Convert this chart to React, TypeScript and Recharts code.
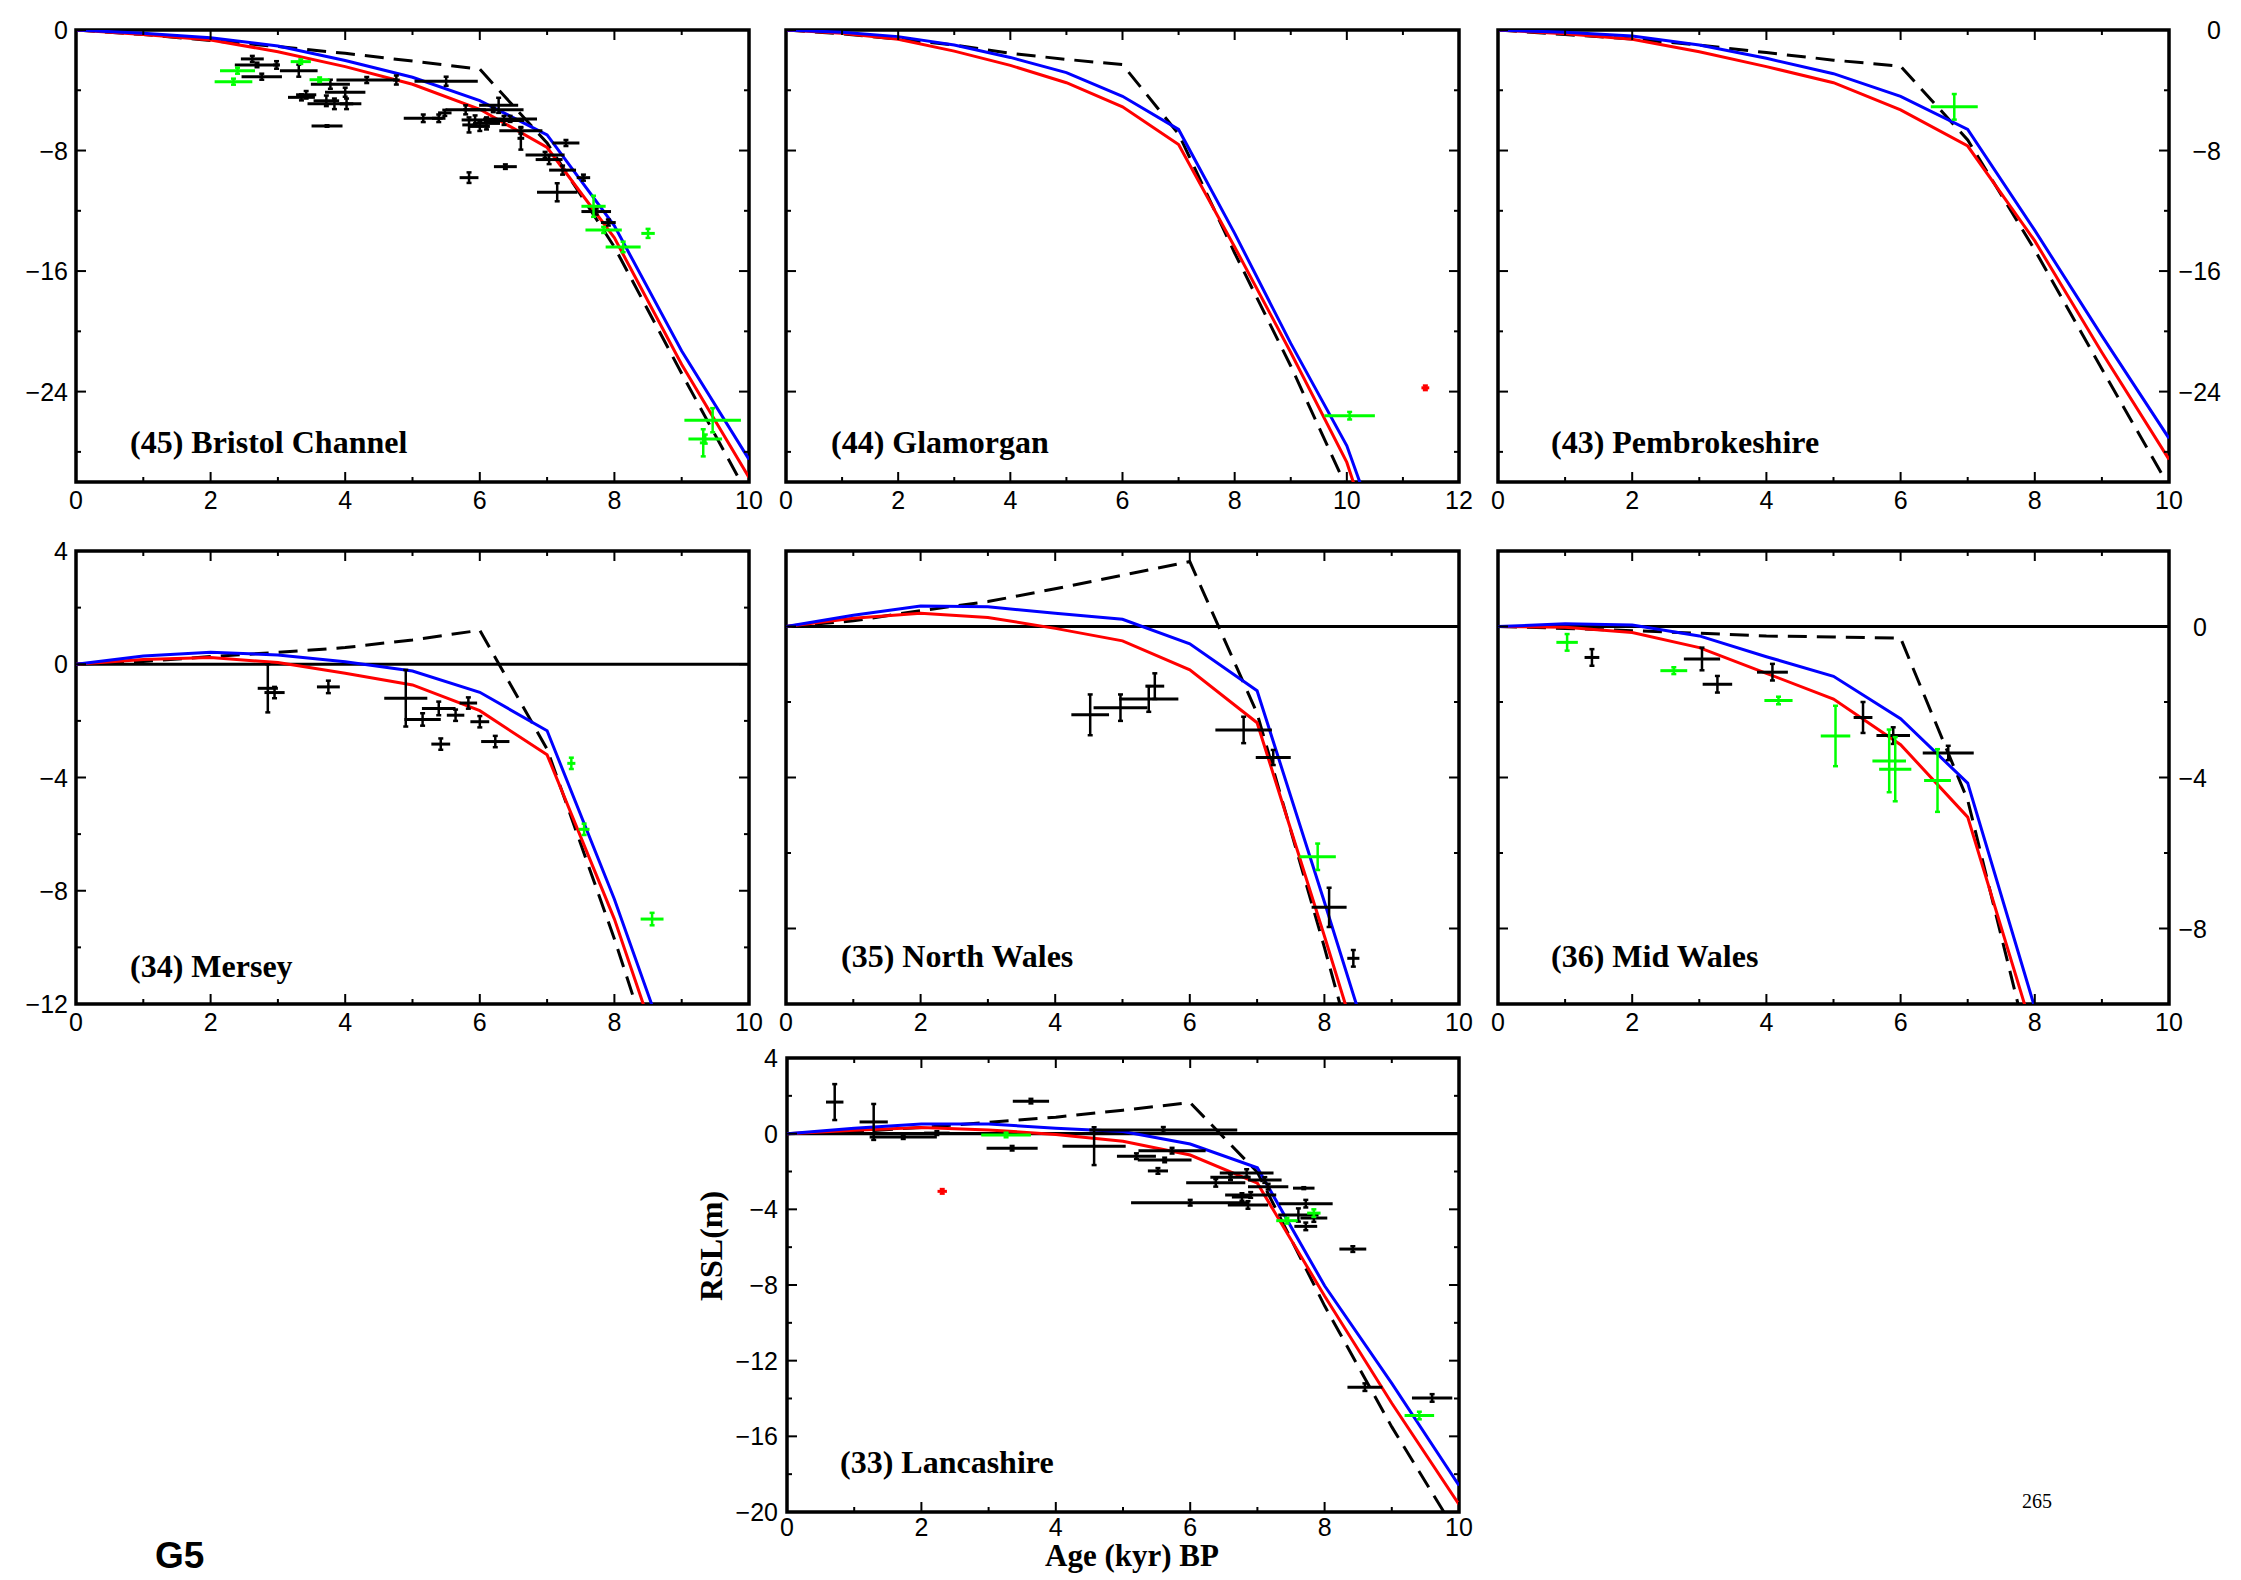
import React from 'react';
import { ComposedChart, Line, Scatter, XAxis, YAxis, ErrorBar, ReferenceArea, ReferenceLine } from 'recharts';

type Pt = [number, number, number, number];

// ---------- ages ----------
const AGES_9 = [0, 1, 2, 3, 4, 5, 6, 7, 8, 9];
const AGES_10 = [0, 1, 2, 3, 4, 5, 6, 7, 8, 9, 10];
const AGES_11 = [0, 1, 2, 3, 4, 5, 6, 7, 8, 9, 10, 11];

// ---------- model curves (dashed = ice model, red, blue) ----------
const BRISTOL_DASH = [0, -0.3, -0.7, -1.1, -1.55, -2.06, -2.6, -7.5, -14.4, -22.8, -31];
const BRISTOL_RED = [0, -0.3, -0.66, -1.44, -2.43, -3.6, -5.26, -7.8, -13.8, -22.2, -29.7];
const BRISTOL_BLUE = [0, -0.22, -0.51, -1.06, -2.03, -3.14, -4.69, -6.96, -13.0, -21.3, -28.5];

const GLAM_DASH = [0, -0.25, -0.6, -1.0, -1.55, -1.95, -2.3, -6.9, -14.8, -22.3, -30.4, -40];
const GLAM_RED = [0, -0.22, -0.62, -1.4, -2.35, -3.5, -5.1, -7.6, -14.4, -21.4, -28.7, -40];
const GLAM_BLUE = [0, -0.15, -0.44, -1.0, -1.82, -2.83, -4.4, -6.6, -13.5, -20.8, -27.6, -38];

const PEMB_DASH = [0, -0.3, -0.6, -1.0, -1.5, -2.0, -2.4, -7.3, -14.6, -22.5, -30.3];
const PEMB_RED = [0, -0.25, -0.62, -1.44, -2.43, -3.5, -5.3, -7.7, -14.0, -21.4, -28.5];
const PEMB_BLUE = [0, -0.15, -0.4, -1.0, -1.88, -2.9, -4.4, -6.6, -13.3, -20.3, -27.1];

const MERSEY_DASH = [0, 0.1, 0.27, 0.42, 0.59, 0.86, 1.2, -3.0, -9.7, -17];
const MERSEY_RED = [0, 0.17, 0.24, 0.06, -0.32, -0.73, -1.64, -3.2, -9.0, -16];
const MERSEY_BLUE = [0, 0.29, 0.42, 0.33, 0.09, -0.24, -0.99, -2.35, -8.3, -15];

const NWALES_DASH = [0, 0.15, 0.42, 0.66, 1.0, 1.36, 1.72, -2.3, -8.5, -15];
const NWALES_RED = [0, 0.22, 0.35, 0.24, -0.05, -0.38, -1.15, -2.55, -8.2, -14];
const NWALES_BLUE = [0, 0.3, 0.54, 0.52, 0.35, 0.19, -0.46, -1.7, -7.3, -13];

const MWALES_DASH = [0, -0.05, -0.11, -0.18, -0.25, -0.28, -0.31, -4.6, -11.8, -18];
const MWALES_RED = [0, -0.02, -0.16, -0.56, -1.24, -1.92, -3.13, -5.05, -10.9, -17];
const MWALES_BLUE = [0, 0.07, 0.04, -0.25, -0.8, -1.32, -2.44, -4.15, -10.1, -17];

const LANC_DASH = [0, 0.1, 0.33, 0.6, 0.87, 1.24, 1.64, -2.04, -9.1, -15.5, -21.3];
const LANC_RED = [0, 0.18, 0.33, 0.2, -0.04, -0.4, -1.13, -2.62, -8.58, -14.25, -19.6];
const LANC_BLUE = [0, 0.29, 0.51, 0.51, 0.29, 0.11, -0.55, -1.8, -8.04, -13.2, -18.6];

// ---------- observations: [age, rsl, ageErr, rslErr] ----------
const BRISTOL_BLACK: Pt[] = [
  [2.62, -1.92, 0.17, 0.2], [2.69, -2.32, 0.33, 0.15], [2.98, -2.32, 0.05, 0.25], [2.76, -3.1, 0.3, 0.2],
  [3.31, -2.7, 0.28, 0.4], [3.35, -4.47, 0.2, 0.2], [3.42, -4.3, 0.15, 0.25], [3.78, -3.6, 0.29, 0.3],
  [4.32, -3.32, 0.45, 0.2], [4.76, -3.32, 0.05, 0.3], [5.5, -3.4, 0.47, 0.3], [4.0, -4.13, 0.3, 0.3],
  [3.72, -4.7, 0.19, 0.35], [3.84, -4.9, 0.4, 0.35], [4.02, -4.9, 0.1, 0.35], [3.73, -6.37, 0.23, 0.05],
  [5.16, -5.86, 0.29, 0.25], [5.39, -5.86, 0.1, 0.25], [5.48, -5.5, 0.1, 0.2], [5.79, -5.3, 0.3, 0.3],
  [5.84, -6.3, 0.1, 0.5], [5.93, -5.97, 0.2, 0.3], [6.0, -6.4, 0.15, 0.3], [6.1, -6.2, 0.2, 0.4],
  [6.28, -5.0, 0.29, 0.5], [6.36, -6.0, 0.3, 0.3], [6.2, -5.3, 0.45, 0.15], [6.45, -5.9, 0.4, 0.2],
  [6.61, -6.68, 0.32, 0.2], [6.61, -7.19, 0.05, 0.75], [6.97, -8.29, 0.29, 0.2], [7.03, -8.6, 0.2, 0.3],
  [7.28, -7.5, 0.2, 0.2], [6.38, -9.07, 0.17, 0.15], [5.84, -9.8, 0.14, 0.35], [7.23, -9.3, 0.2, 0.3],
  [7.54, -9.8, 0.1, 0.2], [7.15, -10.77, 0.3, 0.6], [7.73, -12.05, 0.22, 0.2], [7.91, -12.78, 0.11, 0.2],
];
const BRISTOL_GREEN: Pt[] = [
  [2.4, -2.7, 0.26, 0.2], [2.34, -3.43, 0.28, 0.2], [3.34, -2.1, 0.15, 0.15], [3.62, -3.3, 0.15, 0.15],
  [7.69, -11.7, 0.18, 0.7], [7.84, -13.27, 0.27, 0.2], [8.13, -14.4, 0.26, 0.35], [8.5, -13.5, 0.1, 0.3],
  [9.46, -25.9, 0.42, 0.8], [9.35, -27.15, 0.25, 0.3], [9.32, -27.4, 0.05, 0.9],
];
const GLAM_GREEN: Pt[] = [[10.05, -25.6, 0.45, 0.25]];
const GLAM_REDPTS: Pt[] = [[11.4, -23.75, 0.07, 0.15]];
const PEMB_GREEN: Pt[] = [[6.8, -5.1, 0.35, 0.85]];

const MERSEY_BLACK: Pt[] = [
  [2.85, -0.85, 0.15, 0.85], [2.95, -1.0, 0.15, 0.2], [3.75, -0.8, 0.17, 0.22], [4.9, -1.2, 0.32, 1.0],
  [5.15, -1.95, 0.27, 0.22], [5.39, -1.56, 0.25, 0.24], [5.64, -1.8, 0.13, 0.2], [5.83, -1.37, 0.13, 0.2],
  [6.0, -2.03, 0.14, 0.2], [5.42, -2.82, 0.14, 0.2], [6.23, -2.73, 0.21, 0.2],
];
const MERSEY_GREEN: Pt[] = [[7.36, -3.5, 0.06, 0.2], [7.55, -5.83, 0.08, 0.2], [8.56, -9.0, 0.17, 0.22]];

const NWALES_BLACK: Pt[] = [
  [4.52, -2.34, 0.28, 0.54], [4.97, -2.15, 0.4, 0.35], [5.39, -1.92, 0.44, 0.34], [5.48, -1.58, 0.14, 0.34],
  [6.8, -2.74, 0.42, 0.35], [7.24, -3.47, 0.26, 0.2], [8.07, -7.44, 0.26, 0.52], [8.43, -8.79, 0.09, 0.22],
];
const NWALES_GREEN: Pt[] = [[7.9, -6.1, 0.27, 0.35]];

const MWALES_BLACK: Pt[] = [
  [1.4, -0.82, 0.11, 0.22], [3.04, -0.86, 0.27, 0.3], [3.27, -1.53, 0.22, 0.22], [4.09, -1.21, 0.23, 0.22],
  [5.44, -2.41, 0.14, 0.41], [5.89, -2.89, 0.25, 0.22], [6.71, -3.35, 0.38, 0.19],
];
const MWALES_GREEN: Pt[] = [
  [1.03, -0.42, 0.16, 0.22], [2.62, -1.17, 0.2, 0.09], [4.18, -1.96, 0.21, 0.1], [5.03, -2.9, 0.22, 0.8],
  [5.83, -3.56, 0.25, 0.83], [5.92, -3.78, 0.24, 0.85], [6.55, -4.08, 0.2, 0.83],
];

const LANC_BLACK: Pt[] = [
  [0.71, 1.67, 0.13, 0.95], [1.29, 0.62, 0.21, 0.95], [1.73, -0.18, 0.5, 0.1], [2.23, 0.03, 0.19, 0.1],
  [3.63, 1.72, 0.27, 0.12], [3.35, -0.77, 0.38, 0.12], [4.57, -0.66, 0.47, 1.0], [5.6, 0.2, 1.1, 0.15],
  [5.2, -1.19, 0.29, 0.15], [5.73, -0.9, 0.5, 0.15], [5.62, -1.39, 0.4, 0.12], [5.52, -1.97, 0.15, 0.15],
  [6.0, -3.65, 0.88, 0.15], [6.86, -3.77, 0.3, 0.2], [7.72, -3.7, 0.4, 0.2], [6.38, -2.6, 0.44, 0.2],
  [6.6, -2.3, 0.3, 0.15], [6.84, -2.08, 0.4, 0.2], [6.9, -3.24, 0.38, 0.15], [6.77, -3.35, 0.15, 0.2],
  [7.11, -2.45, 0.25, 0.15], [7.16, -2.8, 0.3, 0.15], [7.69, -2.88, 0.16, 0.05], [7.61, -4.3, 0.3, 0.35],
  [7.84, -4.46, 0.2, 0.2], [7.72, -4.9, 0.17, 0.2], [8.42, -6.1, 0.2, 0.15], [8.6, -13.4, 0.26, 0.2],
  [9.6, -13.97, 0.3, 0.2],
];
const LANC_GREEN: Pt[] = [[3.26, -0.07, 0.37, 0.12], [7.44, -4.6, 0.16, 0.15], [7.84, -4.2, 0.1, 0.2], [9.41, -14.9, 0.22, 0.2]];
const LANC_REDPTS: Pt[] = [[2.31, -3.05, 0.07, 0.12]];

// ---------- tick values ----------
const X_TICKS_10 = [0, 1, 2, 3, 4, 5, 6, 7, 8, 9, 10];
const X_TICKS_12 = [0, 1, 2, 3, 4, 5, 6, 7, 8, 9, 10, 11, 12];
const X_LABELS_10 = [0, 2, 4, 6, 8, 10];
const X_LABELS_12 = [0, 2, 4, 6, 8, 10, 12];
const Y_TICKS_30 = [0, -4, -8, -12, -16, -20, -24, -28];
const Y_LABELS_30 = [0, -8, -16, -24];
const Y_TICKS_MERSEY = [4, 2, 0, -2, -4, -6, -8, -10, -12];
const Y_LABELS_MERSEY = [4, 0, -4, -8, -12];
const Y_TICKS_WALES = [2, 0, -2, -4, -6, -8, -10];
const Y_LABELS_WALES = [0, -4, -8];
const Y_TICKS_LANC = [4, 2, 0, -2, -4, -6, -8, -10, -12, -14, -16, -18, -20];
const Y_LABELS_LANC = [4, 0, -4, -8, -12, -16, -20];

const toLine = (ages: number[], vals: number[]) => ages.map((x, i) => ({ x, y: vals[i] }));
const toPts = (pts: Pt[]) => pts.map(([x, y, ex, ey]) => ({ x, y, ex, ey }));
const fmt = (v: number) => (v < 0 ? '\u2212' + Math.abs(v) : String(v));

const F_SANS = "'Liberation Sans', Arial, Helvetica, sans-serif";
const F_SERIF = "'Liberation Serif', 'Times New Roman', Times, serif";

interface PanelCfg {
  x: number; y: number; w: number; h: number;
  xDomain: [number, number]; yDomain: [number, number];
  xTicks: number[]; xLabels: number[];
  yTicks: number[]; yLabels: number[]; yMajor: number[];
  ySide: 'left' | 'right' | 'none'; yLabelOffset: number;
  xLabelDy: number;
  zero: boolean;
  dash: { x: number; y: number }[]; red: { x: number; y: number }[]; blue: { x: number; y: number }[];
  black: Pt[]; green: Pt[]; redPts: Pt[];
}

const PANELS: PanelCfg[] = [
  {
    x: 76, y: 30, w: 673, h: 452, xDomain: [0, 10], yDomain: [-30, 0],
    xTicks: X_TICKS_10, xLabels: X_LABELS_10, yTicks: Y_TICKS_30, yLabels: Y_LABELS_30, yMajor: Y_LABELS_30,
    ySide: 'left', yLabelOffset: 8, xLabelDy: 27, zero: false,
    dash: toLine(AGES_10, BRISTOL_DASH), red: toLine(AGES_10, BRISTOL_RED), blue: toLine(AGES_10, BRISTOL_BLUE),
    black: BRISTOL_BLACK, green: BRISTOL_GREEN, redPts: [],
  },
  {
    x: 786, y: 30, w: 673, h: 452, xDomain: [0, 12], yDomain: [-30, 0],
    xTicks: X_TICKS_12, xLabels: X_LABELS_12, yTicks: Y_TICKS_30, yLabels: [], yMajor: Y_LABELS_30,
    ySide: 'none', yLabelOffset: 0, xLabelDy: 27, zero: false,
    dash: toLine(AGES_11, GLAM_DASH), red: toLine(AGES_11, GLAM_RED), blue: toLine(AGES_11, GLAM_BLUE),
    black: [], green: GLAM_GREEN, redPts: GLAM_REDPTS,
  },
  {
    x: 1498, y: 30, w: 671, h: 452, xDomain: [0, 10], yDomain: [-30, 0],
    xTicks: X_TICKS_10, xLabels: X_LABELS_10, yTicks: Y_TICKS_30, yLabels: Y_LABELS_30, yMajor: Y_LABELS_30,
    ySide: 'right', yLabelOffset: 52, xLabelDy: 27, zero: false,
    dash: toLine(AGES_10, PEMB_DASH), red: toLine(AGES_10, PEMB_RED), blue: toLine(AGES_10, PEMB_BLUE),
    black: [], green: PEMB_GREEN, redPts: [],
  },
  {
    x: 76, y: 551, w: 673, h: 453, xDomain: [0, 10], yDomain: [-12, 4],
    xTicks: X_TICKS_10, xLabels: X_LABELS_10, yTicks: Y_TICKS_MERSEY, yLabels: Y_LABELS_MERSEY, yMajor: Y_LABELS_MERSEY,
    ySide: 'left', yLabelOffset: 8, xLabelDy: 27, zero: true,
    dash: toLine(AGES_9, MERSEY_DASH), red: toLine(AGES_9, MERSEY_RED), blue: toLine(AGES_9, MERSEY_BLUE),
    black: MERSEY_BLACK, green: MERSEY_GREEN, redPts: [],
  },
  {
    x: 786, y: 551, w: 673, h: 453, xDomain: [0, 10], yDomain: [-10, 2],
    xTicks: X_TICKS_10, xLabels: X_LABELS_10, yTicks: Y_TICKS_WALES, yLabels: [], yMajor: Y_LABELS_WALES,
    ySide: 'none', yLabelOffset: 0, xLabelDy: 27, zero: true,
    dash: toLine(AGES_9, NWALES_DASH), red: toLine(AGES_9, NWALES_RED), blue: toLine(AGES_9, NWALES_BLUE),
    black: NWALES_BLACK, green: NWALES_GREEN, redPts: [],
  },
  {
    x: 1498, y: 551, w: 671, h: 453, xDomain: [0, 10], yDomain: [-10, 2],
    xTicks: X_TICKS_10, xLabels: X_LABELS_10, yTicks: Y_TICKS_WALES, yLabels: Y_LABELS_WALES, yMajor: Y_LABELS_WALES,
    ySide: 'right', yLabelOffset: 38, xLabelDy: 27, zero: true,
    dash: toLine(AGES_9, MWALES_DASH), red: toLine(AGES_9, MWALES_RED), blue: toLine(AGES_9, MWALES_BLUE),
    black: MWALES_BLACK, green: MWALES_GREEN, redPts: [],
  },
  {
    x: 787, y: 1058, w: 672, h: 454, xDomain: [0, 10], yDomain: [-20, 4],
    xTicks: X_TICKS_10, xLabels: X_LABELS_10, yTicks: Y_TICKS_LANC, yLabels: Y_LABELS_LANC, yMajor: Y_LABELS_LANC,
    ySide: 'left', yLabelOffset: 9, xLabelDy: 24, zero: true,
    dash: toLine(AGES_10, LANC_DASH), red: toLine(AGES_10, LANC_RED), blue: toLine(AGES_10, LANC_BLUE),
    black: LANC_BLACK, green: LANC_GREEN, redPts: LANC_REDPTS,
  },
];

const TITLES = [
  { text: '(45) Bristol Channel', x: 130, y: 453 },
  { text: '(44) Glamorgan', x: 831, y: 453 },
  { text: '(43) Pembrokeshire', x: 1551, y: 453 },
  { text: '(34) Mersey', x: 130, y: 977 },
  { text: '(35) North Wales', x: 841, y: 967 },
  { text: '(36) Mid Wales', x: 1551, y: 967 },
  { text: '(33) Lancashire', x: 840, y: 1473 },
];

const EmptyShape = () => <g />;

const ML = 80, MR = 70, MT = 14, MB = 46, AX = 10;

function Panel({ cfg }: { cfg: PanelCfg }) {
  const cw = ML + cfg.w + MR;
  const ch = MT + cfg.h + MB;
  const top = MT, bottom = MT + cfg.h, left = ML, right = ML + cfg.w;

  const xTick = (p: any) => {
    const x = p.x;
    const v = p.payload.value;
    const major = cfg.xLabels.includes(v);
    const len = major ? 10 : 5;
    return (
      <g>
        <line x1={x} x2={x} y1={bottom} y2={bottom - len} stroke="#000" strokeWidth={2} />
        <line x1={x} x2={x} y1={top} y2={top + len} stroke="#000" strokeWidth={2} />
        {major && (
          <text x={x} y={bottom + cfg.xLabelDy} textAnchor="middle" fontFamily={F_SANS} fontSize={25} fill="#000">
            {fmt(v)}
          </text>
        )}
      </g>
    );
  };

  const yTick = (p: any) => {
    const y = p.y;
    const v = p.payload.value;
    const major = cfg.yMajor.includes(v);
    const len = major ? 10 : 5;
    const lab = cfg.yLabels.includes(v);
    return (
      <g>
        <line x1={left} x2={left + len} y1={y} y2={y} stroke="#000" strokeWidth={2} />
        <line x1={right} x2={right - len} y1={y} y2={y} stroke="#000" strokeWidth={2} />
        {lab && cfg.ySide === 'left' && (
          <text x={left - cfg.yLabelOffset} y={y + 9} textAnchor="end" fontFamily={F_SANS} fontSize={25} fill="#000">
            {fmt(v)}
          </text>
        )}
        {lab && cfg.ySide === 'right' && (
          <text x={right + cfg.yLabelOffset} y={y + 9} textAnchor="end" fontFamily={F_SANS} fontSize={25} fill="#000">
            {fmt(v)}
          </text>
        )}
      </g>
    );
  };

  const scat = (pts: Pt[], color: string, key: string) => (
    <Scatter
      key={key}
      xAxisId="b"
      yAxisId="l"
      data={toPts(pts)}
      dataKey="y"
      fill={color}
      shape={EmptyShape}
      isAnimationActive={false}
    >
      <ErrorBar dataKey="ex" direction="x" width={0} strokeWidth={3} stroke={color} isAnimationActive={false} />
      <ErrorBar dataKey="ey" direction="y" width={2.5} strokeWidth={2.5} stroke={color} isAnimationActive={false} />
    </Scatter>
  );

  return (
    <div style={{ position: 'absolute', left: cfg.x - ML, top: cfg.y - MT, width: cw, height: ch }}>
      <ComposedChart width={cw} height={ch} margin={{ top: MT, right: MR, bottom: MB - AX, left: ML - AX }}>
        <XAxis
          xAxisId="b"
          type="number"
          dataKey="x"
          domain={cfg.xDomain}
          ticks={cfg.xTicks}
          interval={0}
          allowDataOverflow
          height={AX}
          axisLine={false}
          tickLine={false}
          tick={xTick}
        />
        <YAxis
          yAxisId="l"
          type="number"
          dataKey="y"
          domain={cfg.yDomain}
          ticks={cfg.yTicks}
          interval={0}
          allowDataOverflow
          width={AX}
          axisLine={false}
          tickLine={false}
          tick={yTick}
        />
        {cfg.zero && <ReferenceLine xAxisId="b" yAxisId="l" y={0} stroke="#000" strokeWidth={3.2} />}
        <Line xAxisId="b" yAxisId="l" data={cfg.dash} dataKey="y" type="linear" stroke="#000" strokeWidth={3}
          strokeDasharray="19 10" dot={false} activeDot={false} isAnimationActive={false} />
        <Line xAxisId="b" yAxisId="l" data={cfg.red} dataKey="y" type="linear" stroke="#ff0000" strokeWidth={3}
          dot={false} activeDot={false} isAnimationActive={false} />
        <Line xAxisId="b" yAxisId="l" data={cfg.blue} dataKey="y" type="linear" stroke="#0000ff" strokeWidth={3}
          dot={false} activeDot={false} isAnimationActive={false} />
        {cfg.black.length > 0 && scat(cfg.black, '#000000', 'black')}
        {cfg.green.length > 0 && scat(cfg.green, '#00ff00', 'green')}
        {cfg.redPts.length > 0 && scat(cfg.redPts, '#ff0000', 'red')}
        <ReferenceArea xAxisId="b" yAxisId="l" x1={cfg.xDomain[0]} x2={cfg.xDomain[1]} y1={cfg.yDomain[0]} y2={cfg.yDomain[1]}
          fill="none" fillOpacity={0} stroke="#000" strokeWidth={3.5} ifOverflow="visible" />
      </ComposedChart>
    </div>
  );
}

export default function App() {
  return (
    <div style={{ position: 'absolute', left: 0, top: 0, width: 2241, height: 1580, background: '#fff', overflow: 'hidden' }}>
      {PANELS.map((cfg, i) => (
        <Panel key={i} cfg={cfg} />
      ))}
      <svg width={2241} height={1580} style={{ position: 'absolute', left: 0, top: 0, pointerEvents: 'none' }}>
        {TITLES.map((t) => (
          <text key={t.text} x={t.x} y={t.y} fontFamily={F_SERIF} fontWeight="bold" fontSize={32} fill="#000">
            {t.text}
          </text>
        ))}
        <text transform="translate(722,1246) rotate(-90)" textAnchor="middle" fontFamily={F_SERIF} fontWeight="bold" fontSize={32} fill="#000">
          RSL(m)
        </text>
        <text x={1132} y={1566} textAnchor="middle" fontFamily={F_SERIF} fontWeight="bold" fontSize={31} fill="#000">
          Age (kyr) BP
        </text>
        <text x={155} y={1568} fontFamily={F_SANS} fontWeight="bold" fontSize={37} fill="#000">
          G5
        </text>
        <text x={2022} y={1508} fontFamily={F_SERIF} fontSize={20} fill="#000">
          265
        </text>
      </svg>
    </div>
  );
}
